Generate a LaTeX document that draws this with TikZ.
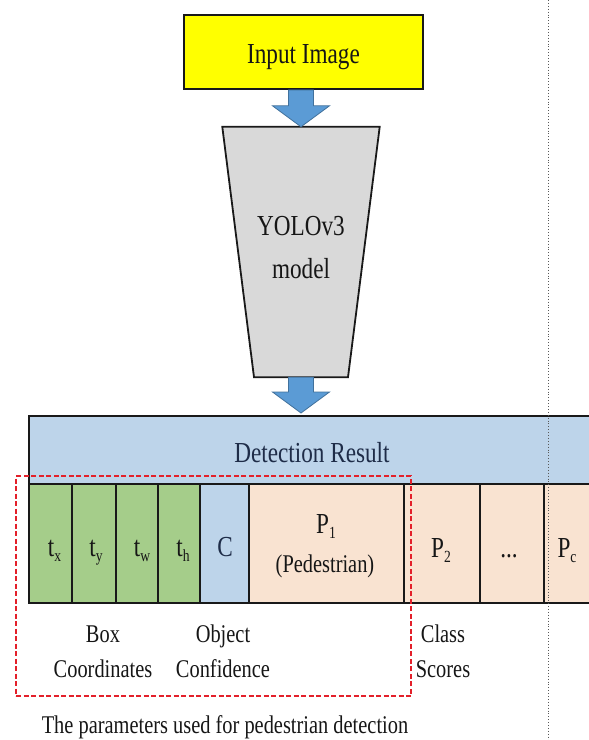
\documentclass[tikz,border=0pt]{standalone}
\usepackage{fontspec}
\setmainfont{Liberation Serif}[FakeStretch=0.8]
\usetikzlibrary{calc}
\definecolor{inyellow}{HTML}{FFFF00}
\definecolor{arrowblue}{HTML}{5B9BD5}
\definecolor{arrowedge}{HTML}{41719C}
\definecolor{modelgray}{HTML}{D9D9D9}
\definecolor{bandblue}{HTML}{BDD4EA}
\definecolor{cellgreen}{HTML}{A5CD8A}
\definecolor{cellpeach}{HTML}{F9E3D1}
\definecolor{dashred}{HTML}{E3202A}
\definecolor{ink}{HTML}{161616}
\definecolor{inkblue}{HTML}{1E2C48}
\newcommand\sbs[1]{\raisebox{-0.2em}{\fontsize{17}{17}\selectfont #1}}
\begin{document}
\begin{tikzpicture}[x=1pt,y=-1pt,
  shapebox/.style={draw=black!90, line width=1.8pt, inner sep=0pt},
  cellbox/.style={shapebox, anchor=north west, minimum height=119pt},
  big/.style={font=\fontsize{29}{34}\selectfont, text=ink, inner sep=0pt, anchor=base},
  small/.style={font=\fontsize{25.5}{30}\selectfont, text=ink, inner sep=0pt, anchor=base},
  barrow/.style={fill=arrowblue, draw=arrowedge, line width=0.8pt, line join=miter}]
\useasboundingbox (0,0) rectangle (589,740);
\clip (0,0) rectangle (589,740);

% input image
\node[shapebox, fill=inyellow, minimum width=239pt, minimum height=74pt] (inp) at (303.5,52) {};
\node[big] (inpt) at (303.5,63) {Input Image};

% model (trapezoid)
\node[inner sep=0pt, minimum width=157pt, minimum height=250pt] (yolo) at (301,252) {};
\draw[shapebox, fill=modelgray] (yolo.north west) -- (yolo.north east)
  -- ($(yolo.south)+(47,0)$) -- ($(yolo.south)+(-47,0)$) -- cycle;
\node[big] (yolot1) at (301,235) {YOLOv3};
\node[big] (yolot2) at (301,278) {model};

% band and cells
\node[shapebox, fill=bandblue, anchor=north west, minimum width=600pt, minimum height=68pt] (band) at (28,415) {};
\node[big, text=inkblue] (bandt) at (312,462) {Detection Result};

\node[cellbox, fill=cellgreen, minimum width=43pt] (tx) at (28,483) {};
\node[cellbox, fill=cellgreen, minimum width=44pt] (ty) at (71,483) {};
\node[cellbox, fill=cellgreen, minimum width=42pt] (tw) at (115,483) {};
\node[cellbox, fill=cellgreen, minimum width=42pt] (th) at (157,483) {};
\node[cellbox, fill=bandblue, minimum width=49pt] (cc) at (199,483) {};
\node[cellbox, fill=cellpeach, minimum width=155pt] (p1) at (248,483) {};
\node[cellbox, fill=cellpeach, minimum width=76pt] (p2) at (403,483) {};
\node[cellbox, fill=cellpeach, minimum width=64pt] (pd) at (479,483) {};
\node[cellbox, fill=cellpeach, minimum width=80pt] (pc) at (543,483) {};

\node[big] (txt) at (54.5,556) {t\sbs{x}};
\node[big] (tyt) at (96,556) {t\sbs{y}};
\node[big] (twt) at (142,556) {t\sbs{w}};
\node[big] (tht) at (183,556) {t\sbs{h}};
\node[big, text=inkblue] (cct) at (225,556) {C};
\node[big] (p1t) at (326,533) {P\sbs{1}};
\node[small] (p1s) at (325,572) {(Pedestrian)};
\node[big] (p2t) at (441,557) {P\sbs{2}};
\node[big] (pdt) at (509,557) {...};
\node[big] (pct) at (567,557) {P\sbs{c}};

% arrows
\draw[barrow] let \p1=(inp.south), \p2=(yolo.north) in
  (\x2-12.5pt,\y1) -- (\x2+12.5pt,\y1) -- (\x2+12.5pt,\y2+21pt) -- (\x2+28.5pt,\y2+21pt)
  -- (\x2,\y2) -- (\x2-28.5pt,\y2+21pt) -- (\x2-12.5pt,\y2+21pt) -- cycle;
\draw[barrow] let \p1=(yolo.south), \p2=(band.north) in
  (\x1-12.5pt,\y1) -- (\x1+12.5pt,\y1) -- (\x1+12.5pt,\y2+23pt) -- (\x1+28.5pt,\y2+23pt)
  -- (\x1,\y2+2pt) -- (\x1-28.5pt,\y2+23pt) -- (\x1-12.5pt,\y2+23pt) -- cycle;

% parameters used
\node[draw=dashred, line width=2pt, dash pattern=on 5pt off 2.5pt, inner sep=0pt,
  anchor=north west, minimum width=395pt, minimum height=220pt] (params) at (15,475) {};

% labels
\node[small] (boxl1) at (103,642) {Box};
\node[small] (boxl2) at (103,677) {Coordinates};
\node[small] (objl1) at (223,642) {Object};
\node[small] (objl2) at (223,677) {Confidence};
\node[small] (clsl1) at (443,642) {Class};
\node[small] (clsl2) at (443,677) {Scores};
\node[small] (cap) at (225,733) {The parameters used for pedestrian detection};

% dotted margin line
\coordinate (dtop) at (548.5,0);
\coordinate (dbot) at (548.5,740);
\draw[black!65, line width=0.9pt, dotted] (dtop) -- (dbot);
\end{tikzpicture}
\end{document}
